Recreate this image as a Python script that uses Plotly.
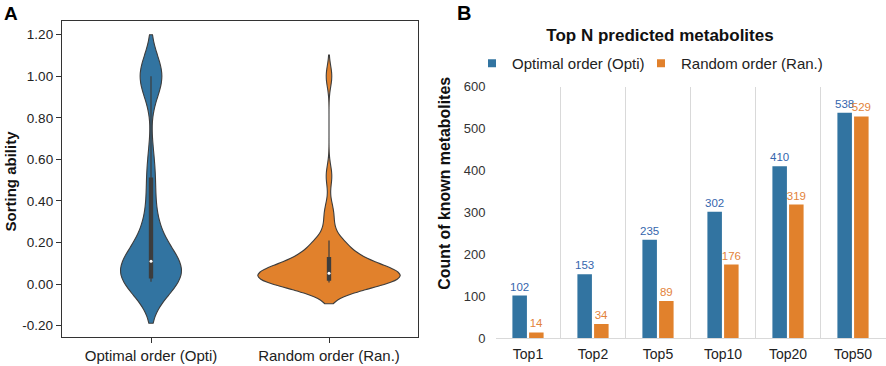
import numpy as np
import plotly.graph_objects as go

violin_categories = ["Optimal order (Opti)", "Random order (Ran.)"]
opti_scores = [0.011, 0.013, 0.015, 0.017, 0.019, 0.021, 0.023, 0.025, 0.027, 0.028,
               0.030, 0.040, 0.050, 0.060, 0.070, 0.075, 0.080, 0.090, 0.100, 0.105,
               0.115, 0.135, 0.155, 0.175, 0.200, 0.230, 0.270, 0.320, 0.390, 0.500,
               0.520, 0.620, 1.0, 1.0, 1.0, 1.0, 1.0, 1.0, 1.0, 1.0]
random_scores = [0.007, 0.009, 0.010, 0.012, 0.013, 0.014, 0.015, 0.016, 0.017, 0.018,
                 0.020, 0.024, 0.028, 0.032, 0.036, 0.040, 0.043, 0.046, 0.049, 0.051,
                 0.053, 0.058, 0.064, 0.070, 0.077, 0.084, 0.092, 0.100, 0.110, 0.120,
                 0.135, 0.155, 0.170, 0.185, 0.200, 0.210, 0.300, 0.360, 0.520, 1.0]
kde_bandwidths = [0.10, 0.051]
# widest extent of each violin (equal-area scaling)
violin_max_widths = [0.341, 0.8]
a_ytick_values = [-0.2, 0.0, 0.2, 0.4, 0.6, 0.8, 1.0, 1.2]

# ---------------- Panel B data
topn_labels = ["Top1", "Top2", "Top5", "Top10", "Top20", "Top50"]
opti_counts = [102, 153, 235, 302, 410, 538]
random_counts = [14, 34, 89, 176, 319, 529]
series_names = ["Optimal order (Opti)", "Random order (Ran.)"]

BLUE = "#3274a1"
ORANGE = "#e1812c"
BLUE_TXT = "#3566ad"
ORANGE_TXT = "#e3833a"
EDGE = "#3d3d3d"
FONT = "Liberation Sans, Arial, sans-serif"
W, H = 886, 366

def px_x(p):
    return p / W

def px_y(p):
    return 1 - p / H

fig = go.Figure()

# Violins
for i, (cat, vals, col, bw, vw) in enumerate(zip(violin_categories, [opti_scores, random_scores],
                                                  [BLUE, ORANGE], kde_bandwidths, violin_max_widths)):
    fig.add_trace(go.Violin(
        x=[cat] * len(vals), y=vals, name=cat,
        fillcolor=col, line=dict(color=EDGE, width=1.1), opacity=1,
        bandwidth=bw, spanmode="soft", points=False,
        scalegroup=f"g{i}", scalemode="width", width=vw,
        box=dict(visible=True, width=0.0176 / vw, fillcolor=EDGE,
                 line=dict(color=EDGE, width=1.2)),
        meanline=dict(visible=False), showlegend=False,
        xaxis="x", yaxis="y", hoverinfo="skip"))
    fig.add_trace(go.Scatter(
        x=[cat], y=[float(np.median(vals))], mode="markers",
        marker=dict(color="white", size=3), showlegend=False,
        xaxis="x", yaxis="y", hoverinfo="skip"))

# Bars (each series gets its own legend box so the two keys can be placed like the original)
legend_ids = ["legend", "legend2"]
for name, vals, col, tcol, lid in zip(series_names, [opti_counts, random_counts],
                                      [BLUE, ORANGE], [BLUE_TXT, ORANGE_TXT], legend_ids):
    fig.add_trace(go.Bar(
        x=topn_labels, y=vals, name=name, marker=dict(color=col, line=dict(width=0)),
        text=vals, texttemplate="%{y}", textposition="outside", constraintext="none",
        textfont=dict(color=tcol, size=11.5, family=FONT), cliponaxis=False,
        showlegend=False, xaxis="x2", yaxis="y2"))
    # legend key
    fig.add_trace(go.Scatter(
        x=[None], y=[None], mode="markers", name=name, legend=lid,
        marker=dict(symbol="square", size=8, color=col),
        xaxis="x2", yaxis="y2"))

legend_common = dict(orientation="h", xanchor="left", yanchor="middle",
                     font=dict(size=15, color="#222222"), bgcolor="rgba(0,0,0,0)",
                     itemwidth=30)

fig.update_layout(
    width=W, height=H,
    margin=dict(l=0, r=0, t=0, b=0, autoexpand=False),
    paper_bgcolor="white", plot_bgcolor="white",
    font=dict(family=FONT, color="#222222"),
    violinmode="overlay",
    barmode="group", bargap=0.487, bargroupgap=0.13,
    xaxis=dict(domain=[px_x(62), px_x(418)], anchor="y", type="category", automargin=False,
               range=[-0.5, 1.5], showline=True, mirror=True, linecolor="#333333",
               linewidth=1.3, ticks="outside", ticklen=5, tickcolor="#333333",
               tickfont=dict(size=15, color="#222222"), showgrid=False, zeroline=False),
    yaxis=dict(domain=[px_y(337), px_y(21)], anchor="x", range=[-0.255, 1.266], automargin=False,
               tickvals=a_ytick_values, ticktext=[f"{v:.2f}" for v in a_ytick_values],
               showline=True, mirror=True, linecolor="#333333", linewidth=1.3,
               ticks="outside", ticklen=5, tickcolor="#333333",
               tickfont=dict(size=13.5, color="#222222"), showgrid=False, zeroline=False),
    xaxis2=dict(domain=[px_x(495.5), px_x(885.5)], anchor="y2", type="category", automargin=False,
                tickson="boundaries", showgrid=True, gridcolor="#d9d9d9", gridwidth=1,
                showline=True, linecolor="#d9d9d9", linewidth=1, ticks="",
                ticklabelstandoff=3,
                tickfont=dict(size=14, color="#222222"), zeroline=False),
    yaxis2=dict(domain=[px_y(338.3), px_y(86.7)], anchor="x2", range=[0, 600], automargin=False,
                dtick=100, showgrid=False, showline=False, ticks="", zeroline=False,
                ticklabelstandoff=9, tickfont=dict(size=13, color="#333333")),
    title=dict(text="Top N predicted metabolites", x=px_x(660), xanchor="center",
               y=px_y(35), yanchor="middle",
               font=dict(size=17, weight="bold", color="#111111")),
    legend=dict(x=px_x(472), y=px_y(63.5), **legend_common),
    legend2=dict(x=px_x(641), y=px_y(63.5), **legend_common),
    annotations=[
        dict(text="<b>A</b>", x=px_x(2), y=px_y(1), xref="paper", yref="paper",
             xanchor="left", yanchor="top", showarrow=False,
             font=dict(size=19, color="black")),
        dict(text="<b>B</b>", x=px_x(455.5), y=px_y(0), xref="paper", yref="paper",
             xanchor="left", yanchor="top", showarrow=False,
             font=dict(size=20, color="black")),
        dict(text="<b>Sorting ability</b>", textangle=-90,
             x=px_x(9.5), y=px_y(181), xref="paper", yref="paper",
             xanchor="center", yanchor="middle", showarrow=False,
             font=dict(size=15, color="#111111")),
        dict(text="<b>Count of known metabolites</b>", textangle=-90,
             x=px_x(444.3), y=px_y(183.4), xref="paper", yref="paper",
             xanchor="center", yanchor="middle", showarrow=False,
             font=dict(size=15.9, color="#111111")),
    ],
)

# the page's default body margin would shift the 886x366 figure; remove it
fig.write_html("out.html", config={"displayModeBar": False},
               post_script="document.body.style.margin='0px';")
